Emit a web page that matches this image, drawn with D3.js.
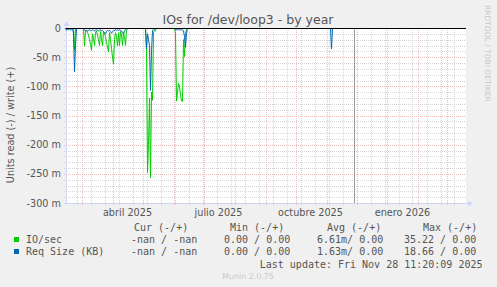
<!DOCTYPE html>
<html>
<head>
<meta charset="utf-8">
<script src="https://cdn.jsdelivr.net/npm/d3@7"></script>
<style>
  body { margin: 0; background: #f0f0f0; }
  svg { display: block; }
  text { font-family: "DejaVu Sans", sans-serif; fill: #555; }
  .mono { font-family: "DejaVu Sans Mono", monospace; font-size: 10px; fill: #555; }
</style>
</head>
<body>
<svg id="chart" width="497" height="287"></svg>
<script>
// read values in milli-units per day (plotted on the negative side)
const ioSegments = [
    ['2025-02-21', [0, 38, 0]],
    ['2025-03-03', [0, 31, 5, 4, 8, 12, 20, 28, 38, 10, 18, 30, 8, 5, 12, 20, 30, 6, 18, 30, 6, 10, 15, 25, 32, 41, 8, 20, 35, 50, 62, 20, 8, 15, 31, 8, 30, 6, 12, 30, 8, 15, 30, 5, 0]],
    ['2025-05-04', [0, 40, 248, 200, 120, 257, 110, 124, 8, 5, 5, 0]],
    ['2025-06-02', [0, 10, 125, 110, 95, 100, 115, 125, 126, 20, 49, 8, 3, 0]],
    ['2025-11-05', [0, 2, 0]]
];
const reqSegments = [
    ['2025-02-13', [0, 4, 2, 3, 0, 4, 2, 0, 10, 75, 30, 0]],
    ['2025-03-02', [0, 2, 3, 5, 4, 5, 4, 3, 5, 4, 3, 4, 5, 4, 3, 4, 5, 4, 3, 5, 4, 6, 8, 10, 6, 4, 5, 4, 6, 9, 6, 4, 5, 3, 4, 3, 4, 3, 4, 5, 8, 10, 5, 3, 2, 0]],
    ['2025-05-04', [0, 35, 10, 20, 30, 107, 40, 4, 3, 3, 0]],
    ['2025-05-23', [0, 2, 0]],
    ['2025-06-02', [0, 3, 3, 3, 3, 3, 3, 3, 3, 5, 15, 33, 10, 0]],
    ['2025-08-12', [0, 2, 0]],
    ['2025-11-05', [0, 36, 0]]
];

const yTicks = [0, -50, -100, -150, -200, -250, -300];
const yTickLabels = ['0', '-50 m', '-100 m', '-150 m', '-200 m', '-250 m', '-300 m'];
const xTickDates = ['2025-04-16', '2025-07-16', '2025-10-16', '2026-01-16'];
const xTickLabels = ['abril 2025', 'julio 2025', 'octubre 2025', 'enero 2026'];

const legendHeader = ['Cur (-/+)', 'Min (-/+)', 'Avg (-/+)', 'Max (-/+)'];
const legendNames = ['IO/sec', 'Req Size (KB)'];
const legendColors = ['#00cc00', '#0066b3'];
const legendCur = ['-nan / -nan', '-nan / -nan'];
const legendMin = ['0.00 / 0.00', '0.00 / 0.00'];
const legendAvg = ['6.61m/ 0.00', '1.63m/ 0.00'];
const legendMax = ['35.22 / 0.00', '18.66 / 0.00'];
const lastUpdate = 'Last update: Fri Nov 28 11:20:09 2025';

const parseDay = d3.utcParse('%Y-%m-%d');
const startTime = new Date(Date.UTC(2025, 1, 13, 12));
const endTime = d3.utcDay.offset(startTime, 400);
const nowTime = new Date(Date.UTC(2025, 10, 28, 11, 20, 9));

const pLeft = 66, pRight = 466, pTop = 28, pBottom = 203;

const svg = d3.select('#chart');

var x = d3.scaleUtc().domain([startTime, endTime]).range([pLeft, pRight]);
var y = d3.scaleLinear().domain([-300, 0]).range([pBottom, pTop]);

svg.append('rect').attr('x', pLeft).attr('y', pTop)
    .attr('width', pRight - pLeft).attr('height', pBottom - pTop)
    .attr('fill', '#ffffff');

// minor grid: every 10 m and every second monday
var grid = svg.append('g').attr('stroke-dasharray', '1,1').attr('stroke-width', 1);
var anchor = Date.UTC(2026, 0, 12);
var mondays = d3.utcMonday.range(startTime, endTime)
    .filter(d => Math.round((d - anchor) / 864e5) % 14 === 0);

grid.selectAll('.vmin').data(mondays).enter().append('line')
    .attr('x1', d => Math.round(x(d)) + 0.5).attr('x2', d => Math.round(x(d)) + 0.5)
    .attr('y1', pTop).attr('y2', pBottom + 2)
    .attr('stroke', '#d6d6d6');

grid.selectAll('.hmin').data(d3.range(-300, 1, 10).filter(v => v % 50 !== 0)).enter().append('line')
    .attr('x1', pLeft - 2).attr('x2', pRight)
    .attr('y1', d => Math.round(y(d)) + 0.5).attr('y2', d => Math.round(y(d)) + 0.5)
    .attr('stroke', '#d6d6d6');

grid.selectAll('.vmaj').data(d3.utcMonth.range(startTime, endTime)).enter().append('line')
    .attr('x1', d => Math.round(x(d)) + 0.5).attr('x2', d => Math.round(x(d)) + 0.5)
    .attr('y1', pTop).attr('y2', pBottom + 2)
    .attr('stroke', '#efbcbc');

grid.selectAll('.hmaj').data(yTicks).enter().append('line')
    .attr('x1', pLeft - 2).attr('x2', pRight)
    .attr('y1', d => Math.round(y(d)) + 0.5).attr('y2', d => Math.round(y(d)) + 0.5)
    .attr('stroke', '#efbcbc');

// axes
svg.append('line').attr('x1', pLeft + 0.5).attr('x2', pLeft + 0.5)
    .attr('y1', pBottom).attr('y2', pTop - 4).attr('stroke', '#cfd6f8');
svg.append('path').attr('d', `M${pLeft - 2.5},${pTop - 2}L${pLeft + 3.5},${pTop - 2}L${pLeft + 0.5},${pTop - 7}Z`)
    .attr('fill', '#cfd6f8');
svg.append('line').attr('x1', pLeft - 2).attr('x2', pRight + 4)
    .attr('y1', pBottom + 0.5).attr('y2', pBottom + 0.5).attr('stroke', '#cfd6f8');
svg.append('path').attr('d', `M${pRight + 2},${pBottom - 2.5}L${pRight + 2},${pBottom + 3.5}L${pRight + 7},${pBottom + 0.5}Z`)
    .attr('fill', '#cfd6f8');

// now line
svg.append('line')
    .attr('x1', Math.round(x(nowTime)) + 0.5).attr('x2', Math.round(x(nowTime)) + 0.5)
    .attr('y1', pTop).attr('y2', pBottom)
    .attr('stroke', '#999999');

// series
var line = d3.line()
    .x(d => x(d.date))
    .y(d => y(-d.value));

function expand(seg) {
    var start = parseDay(seg[0]);
    return seg[1].map((v, i) => ({date: d3.utcDay.offset(start, i), value: v}));
}

svg.append('g').selectAll('path').data(ioSegments.map(expand)).enter().append('path')
    .attr('d', line).attr('fill', 'none').attr('stroke', legendColors[0]).attr('stroke-width', 1);
svg.append('g').selectAll('path').data(reqSegments.map(expand)).enter().append('path')
    .attr('d', line).attr('fill', 'none').attr('stroke', legendColors[1]).attr('stroke-width', 1);

// zero rule
svg.append('line').attr('x1', pLeft).attr('x2', pRight)
    .attr('y1', Math.round(y(0)) + 0.5).attr('y2', Math.round(y(0)) + 0.5)
    .attr('stroke', '#000000');

// tick labels
svg.append('g').selectAll('text').data(yTicks).enter().append('text')
    .attr('x', 61).attr('y', d => y(d) + 3.5)
    .attr('text-anchor', 'end').style('font-size', '9.7px')
    .text((d, i) => yTickLabels[i]);

svg.append('g').selectAll('text').data(xTickDates).enter().append('text')
    .attr('x', d => x(parseDay(d))).attr('y', 216)
    .attr('text-anchor', 'middle').style('font-size', '9.7px')
    .text((d, i) => xTickLabels[i]);

// titles
svg.append('text').attr('x', 248).attr('y', 23.5).attr('text-anchor', 'middle')
    .style('font-size', '12.5px').text('IOs for /dev/loop3 - by year');

svg.append('text').attr('transform', 'translate(14,125) rotate(-90)')
    .attr('text-anchor', 'middle').style('font-size', '9.7px')
    .text('Units read (-) / write (+)');

svg.append('text').attr('transform', 'translate(485,5) rotate(90)')
    .style('font-size', '7.5px').style('fill', '#c8c8c8')
    .text('RRDTOOL / TOBI OETIKER');

// legend
var hx = [134, 230, 327, 423];
svg.append('g').selectAll('text').data(legendHeader).enter().append('text')
    .attr('class', 'mono').attr('x', (d, i) => hx[i]).attr('y', 231).text(d => d);

legendNames.forEach(function (name, i) {
    var ly = 243 + i * 12;
    svg.append('rect').attr('x', 14).attr('y', ly - 6).attr('width', 5).attr('height', 5)
        .attr('fill', legendColors[i]);
    svg.append('text').attr('class', 'mono').attr('x', 26).attr('y', ly).text(name);
    svg.append('text').attr('class', 'mono').attr('x', 131).attr('y', ly).text(legendCur[i]);
    svg.append('text').attr('class', 'mono').attr('x', 224).attr('y', ly).text(legendMin[i]);
    svg.append('text').attr('class', 'mono').attr('x', 317).attr('y', ly).text(legendAvg[i]);
    svg.append('text').attr('class', 'mono').attr('x', 404).attr('y', ly).text(legendMax[i]);
});

svg.append('text').attr('class', 'mono').attr('x', 482.5).attr('y', 267.5)
    .attr('text-anchor', 'end').text(lastUpdate);

svg.append('text').attr('x', 248).attr('y', 279).attr('text-anchor', 'middle')
    .style('font-size', '7.9px').style('fill', '#c8c8c8').text('Munin 2.0.75');
</script>
</body>
</html>
